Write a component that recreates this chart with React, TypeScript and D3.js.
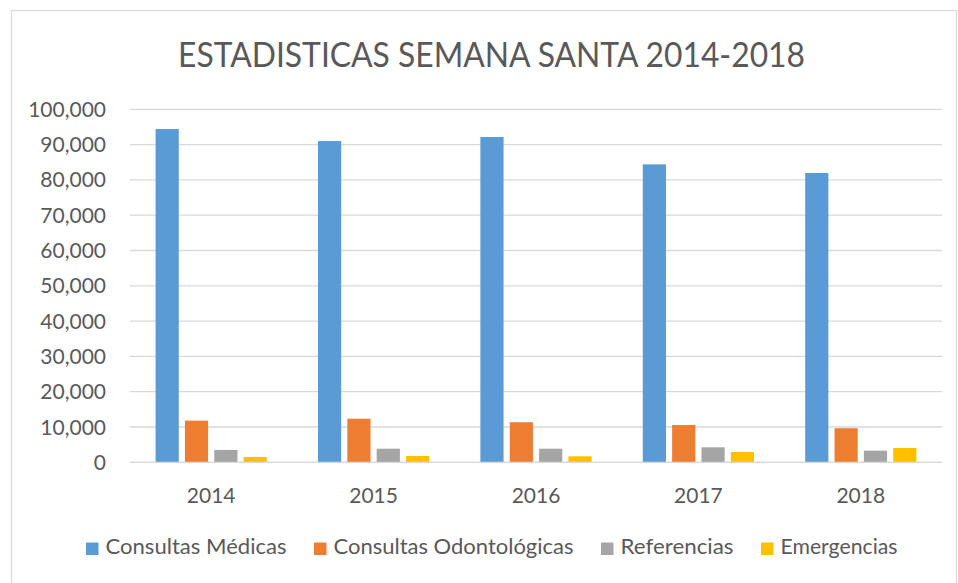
import React from "react";
import * as d3 from "d3";

const years = ["2014", "2015", "2016", "2017", "2018"];
const seriesNames = ["Consultas Médicas", "Consultas Odontológicas", "Referencias", "Emergencias"];
const medicas = [94400, 91000, 92150, 84400, 81950];
const odontologicas = [11800, 12350, 11350, 10550, 9650];
const referencias = [3500, 3850, 3850, 4250, 3300];
const emergencias = [1500, 1800, 1700, 2900, 4050];
const yTicks = [0, 10000, 20000, 30000, 40000, 50000, 60000, 70000, 80000, 90000, 100000];
const title = "ESTADISTICAS SEMANA SANTA 2014-2018";

const colors = ["#5B9BD5", "#ED7D31", "#A5A5A5", "#FFC000"];
const legendTextWidths = [181, 240, 113, 117];

const W = 958;
const H = 583;
const FONT = "Lato, 'Open Sans', sans-serif";
const TXT = "#595959";
const GRID = "#d9d9d9";

export default function App() {
  const values = [medicas, odontologicas, referencias, emergencias];
  const x0 = d3.scaleBand<string>().domain(years).range([130, 942]).paddingInner(0.315).paddingOuter(0.1575);
  const x1 = d3.scaleBand<string>().domain(seriesNames).range([0, x0.bandwidth()]).paddingInner(0.21).paddingOuter(0);
  const y = d3.scaleLinear().domain([0, 100000]).range([462.3, 109.3]);
  const fmt = d3.format(",");

  // legend layout
  const legendItems: { name: string; color: string; x: number; w: number }[] = [];
  let lx = 86;
  seriesNames.forEach((name, i) => {
    legendItems.push({ name, color: colors[i], x: lx, w: legendTextWidths[i] });
    lx += 12.5 + 7 + legendTextWidths[i] + 27.5;
  });

  return (
    <svg width={W} height={H} style={{ position: "absolute", left: 0, top: 0, background: "#fff" }} fontFamily={FONT}>
      <rect x={0} y={0} width={W} height={H} fill="#fff" />
      <rect x={11.5} y={10.5} width={945} height={600} fill="#fff" stroke={GRID} strokeWidth={1.2} />
      <text x={491.5} y={66.7} textAnchor="middle" fontSize={34} fill={TXT} textLength={627} lengthAdjust="spacingAndGlyphs">
        {title}
      </text>
      {yTicks.map((t) => (
        <g key={t}>
          <line x1={130} x2={942} y1={y(t)} y2={y(t)} stroke={GRID} strokeWidth={1.3} />
          <text x={106} y={y(t)} dy="0.36em" textAnchor="end" fontSize={21} fill={TXT}>
            {fmt(t)}
          </text>
        </g>
      ))}
      {years.map((yr, yi) => (
        <g key={yr} transform={`translate(${x0(yr)},0)`}>
          {seriesNames.map((s, si) => {
            const v = values[si][yi];
            return (
              <rect
                key={s}
                x={x1(s)}
                y={y(v)}
                width={x1.bandwidth()}
                height={y(0) - y(v)}
                fill={colors[si]}
              />
            );
          })}
          <text x={x0.bandwidth() / 2} y={502.7} textAnchor="middle" fontSize={21} fill={TXT}>
            {yr}
          </text>
        </g>
      ))}
      <line x1={130} x2={942} y1={y(0)} y2={y(0)} stroke={GRID} strokeWidth={1.3} />
      {legendItems.map((it) => (
        <g key={it.name}>
          <rect x={it.x} y={542.5} width={12.5} height={12.5} fill={it.color} />
          <text x={it.x + 19.5} y={554} fontSize={21} fill={TXT} textLength={it.w} lengthAdjust="spacingAndGlyphs">
            {it.name}
          </text>
        </g>
      ))}
    </svg>
  );
}
